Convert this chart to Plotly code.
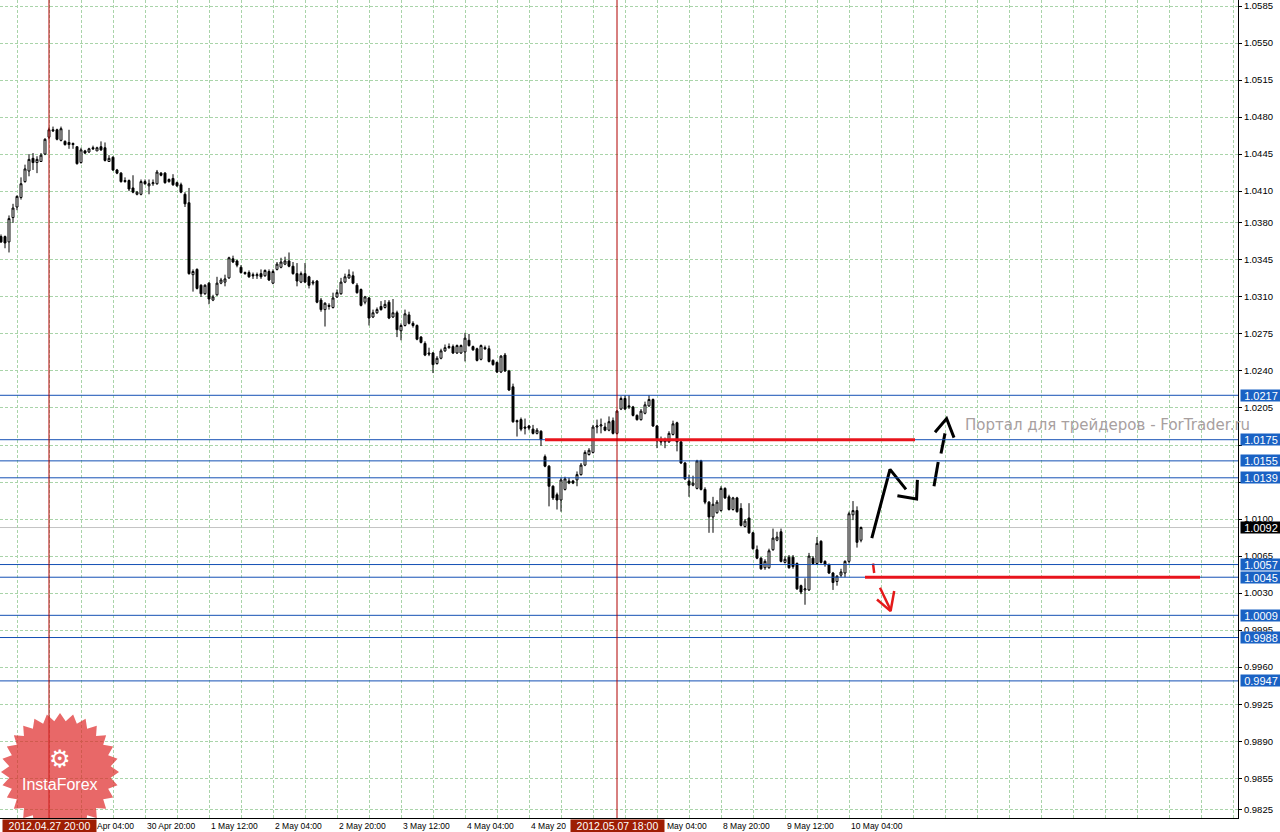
import math
import plotly.graph_objects as go

# ---------------- data (H1 candles, 27 Apr 08:00 .. 10 May 07:00, weekends skipped) ----------------
opens = [1.0367, 1.0367, 1.0362, 1.0385, 1.0395, 1.0404, 1.0419, 1.0429, 1.0441, 1.0437,
         1.0438, 1.0445, 1.0461, 1.0468, 1.0468, 1.0458, 1.0457, 1.0456, 1.0455, 1.0452,
         1.0437, 1.0448, 1.0447, 1.0451, 1.0448, 1.0452, 1.0451, 1.0438, 1.0442, 1.0430,
         1.0427, 1.0420, 1.0420, 1.0413, 1.0407, 1.0407, 1.0419, 1.0415, 1.0417, 1.0417,
         1.0427, 1.0427, 1.0419, 1.0422, 1.0418, 1.0416, 1.0407, 1.0399, 1.0331, 1.0336,
         1.0321, 1.0313, 1.0323, 1.0307, 1.0312, 1.0323, 1.0324, 1.0328, 1.0346, 1.0344,
         1.0338, 1.0333, 1.0333, 1.0331, 1.0330, 1.0332, 1.0330, 1.0334, 1.0323, 1.0336,
         1.0338, 1.0341, 1.0344, 1.0339, 1.0332, 1.0324, 1.0332, 1.0329, 1.0323, 1.0325,
         1.0307, 1.0298, 1.0302, 1.0300, 1.0310, 1.0313, 1.0324, 1.0328, 1.0330, 1.0321,
         1.0317, 1.0305, 1.0309, 1.0291, 1.0295, 1.0301, 1.0300, 1.0305, 1.0291, 1.0295,
         1.0278, 1.0283, 1.0293, 1.0285, 1.0283, 1.0272, 1.0266, 1.0257, 1.0257, 1.0247,
         1.0252, 1.0259, 1.0262, 1.0263, 1.0257, 1.0257, 1.0258, 1.0269, 1.0263, 1.0261,
         1.0251, 1.0262, 1.0261, 1.0250, 1.0248, 1.0239, 1.0255, 1.0240, 1.0225, 1.0193,
         1.0194, 1.0187, 1.0188, 1.0185, 1.0181, 1.0183, 1.0159, 1.0150, 1.0131, 1.0123,
         1.0118, 1.0128, 1.0136, 1.0136, 1.0137, 1.0142, 1.0151, 1.0161, 1.0163, 1.0187,
         1.0188, 1.0187, 1.0184, 1.0193, 1.0181, 1.0204, 1.0214, 1.0207, 1.0206, 1.0198,
         1.0194, 1.0200, 1.0207, 1.0213, 1.0188, 1.0174, 1.0173, 1.0173, 1.0180, 1.0191,
         1.0173, 1.0153, 1.0136, 1.0132, 1.0129, 1.0155, 1.0128, 1.0116, 1.0102, 1.0106,
         1.0108, 1.0129, 1.0121, 1.0109, 1.0120, 1.0110, 1.0093, 1.0101, 1.0087, 1.0071,
         1.0063, 1.0054, 1.0054, 1.0071, 1.0080, 1.0088, 1.0059, 1.0064, 1.0064, 1.0058,
         1.0037, 1.0033, 1.0033, 1.0063, 1.0058, 1.0079, 1.0060, 1.0057, 1.0049, 1.0041,
         1.0047, 1.0049, 1.0060, 1.0104, 1.0108, 1.0080]
highs = [1.0369, 1.0368, 1.0387, 1.0398, 1.0406, 1.0423, 1.0435, 1.0445, 1.0446, 1.0443,
         1.0446, 1.0460, 1.0470, 1.0471, 1.0469, 1.0471, 1.0458, 1.0468, 1.0456, 1.0452,
         1.0451, 1.0449, 1.0451, 1.0453, 1.0452, 1.0457, 1.0456, 1.0444, 1.0443, 1.0431,
         1.0428, 1.0423, 1.0421, 1.0425, 1.0410, 1.0421, 1.0421, 1.0421, 1.0421, 1.0430,
         1.0428, 1.0428, 1.0422, 1.0426, 1.0419, 1.0418, 1.0409, 1.0413, 1.0336, 1.0337,
         1.0322, 1.0322, 1.0324, 1.0312, 1.0329, 1.0328, 1.0331, 1.0348, 1.0349, 1.0345,
         1.0340, 1.0334, 1.0335, 1.0333, 1.0333, 1.0336, 1.0336, 1.0336, 1.0336, 1.0343,
         1.0347, 1.0348, 1.0352, 1.0343, 1.0342, 1.0334, 1.0342, 1.0330, 1.0326, 1.0326,
         1.0309, 1.0305, 1.0304, 1.0314, 1.0317, 1.0328, 1.0332, 1.0336, 1.0334, 1.0323,
         1.0318, 1.0311, 1.0310, 1.0298, 1.0300, 1.0306, 1.0307, 1.0307, 1.0308, 1.0297,
         1.0285, 1.0298, 1.0296, 1.0287, 1.0284, 1.0273, 1.0268, 1.0262, 1.0258, 1.0254,
         1.0261, 1.0265, 1.0266, 1.0265, 1.0265, 1.0265, 1.0276, 1.0275, 1.0264, 1.0262,
         1.0265, 1.0264, 1.0264, 1.0251, 1.0249, 1.0255, 1.0257, 1.0241, 1.0228, 1.0194,
         1.0196, 1.0195, 1.0189, 1.0189, 1.0186, 1.0184, 1.0161, 1.0151, 1.0132, 1.0125,
         1.0139, 1.0140, 1.0139, 1.0137, 1.0145, 1.0153, 1.0165, 1.0167, 1.0189, 1.0194,
         1.0195, 1.0191, 1.0197, 1.0196, 1.0203, 1.0216, 1.0217, 1.0217, 1.0207, 1.0199,
         1.0204, 1.0211, 1.0217, 1.0214, 1.0189, 1.0178, 1.0177, 1.0183, 1.0193, 1.0192,
         1.0175, 1.0154, 1.0142, 1.0141, 1.0156, 1.0156, 1.0130, 1.0117, 1.0121, 1.0118,
         1.0131, 1.0130, 1.0123, 1.0121, 1.0121, 1.0115, 1.0100, 1.0115, 1.0088, 1.0075,
         1.0064, 1.0062, 1.0072, 1.0091, 1.0088, 1.0091, 1.0065, 1.0066, 1.0066, 1.0059,
         1.0038, 1.0044, 1.0068, 1.0065, 1.0083, 1.0080, 1.0061, 1.0058, 1.0050, 1.0047,
         1.0053, 1.0061, 1.0107, 1.0117, 1.0112, 1.0093]
lows = [1.0361, 1.0356, 1.0352, 1.0380, 1.0392, 1.0402, 1.0418, 1.0424, 1.0430, 1.0427,
        1.0438, 1.0444, 1.0459, 1.0466, 1.0458, 1.0457, 1.0453, 1.0450, 1.0450, 1.0435,
        1.0436, 1.0445, 1.0446, 1.0449, 1.0448, 1.0448, 1.0438, 1.0438, 1.0429, 1.0426,
        1.0418, 1.0418, 1.0410, 1.0408, 1.0406, 1.0406, 1.0416, 1.0407, 1.0415, 1.0416,
        1.0424, 1.0417, 1.0418, 1.0415, 1.0414, 1.0408, 1.0395, 1.0331, 1.0315, 1.0317,
        1.0310, 1.0312, 1.0303, 1.0306, 1.0311, 1.0322, 1.0320, 1.0327, 1.0342, 1.0338,
        1.0332, 1.0331, 1.0328, 1.0327, 1.0327, 1.0327, 1.0329, 1.0325, 1.0322, 1.0335,
        1.0337, 1.0340, 1.0338, 1.0331, 1.0320, 1.0323, 1.0323, 1.0318, 1.0321, 1.0304,
        1.0296, 1.0282, 1.0298, 1.0299, 1.0309, 1.0312, 1.0323, 1.0327, 1.0322, 1.0313,
        1.0301, 1.0303, 1.0283, 1.0290, 1.0294, 1.0297, 1.0299, 1.0289, 1.0290, 1.0272,
        1.0269, 1.0282, 1.0284, 1.0281, 1.0269, 1.0266, 1.0254, 1.0254, 1.0238, 1.0246,
        1.0251, 1.0258, 1.0261, 1.0256, 1.0256, 1.0256, 1.0249, 1.0263, 1.0259, 1.0249,
        1.0250, 1.0260, 1.0248, 1.0245, 1.0238, 1.0238, 1.0239, 1.0221, 1.0191, 1.0178,
        1.0183, 1.0180, 1.0184, 1.0180, 1.0180, 1.0169, 1.0149, 1.0112, 1.0118, 1.0109,
        1.0107, 1.0127, 1.0133, 1.0133, 1.0131, 1.0141, 1.0150, 1.0160, 1.0162, 1.0181,
        1.0181, 1.0183, 1.0183, 1.0180, 1.0180, 1.0203, 1.0203, 1.0204, 1.0197, 1.0193,
        1.0193, 1.0199, 1.0206, 1.0187, 1.0167, 1.0170, 1.0167, 1.0172, 1.0179, 1.0164,
        1.0152, 1.0137, 1.0121, 1.0131, 1.0128, 1.0127, 1.0114, 1.0087, 1.0087, 1.0105,
        1.0107, 1.0119, 1.0108, 1.0108, 1.0106, 1.0093, 1.0092, 1.0086, 1.0071, 1.0062,
        1.0052, 1.0052, 1.0053, 1.0070, 1.0079, 1.0059, 1.0058, 1.0053, 1.0053, 1.0033,
        1.0029, 1.0019, 1.0032, 1.0057, 1.0057, 1.0058, 1.0055, 1.0048, 1.0033, 1.0037,
        1.0045, 1.0045, 1.0058, 1.0099, 1.0073, 1.0078]
closes = [1.0362, 1.0361, 1.0384, 1.0394, 1.0405, 1.0417, 1.0431, 1.0440, 1.0437, 1.0440,
          1.0444, 1.0459, 1.0468, 1.0467, 1.0459, 1.0469, 1.0454, 1.0454, 1.0454, 1.0436,
          1.0449, 1.0446, 1.0450, 1.0450, 1.0451, 1.0449, 1.0439, 1.0441, 1.0430, 1.0427,
          1.0419, 1.0419, 1.0412, 1.0409, 1.0409, 1.0419, 1.0417, 1.0417, 1.0418, 1.0428,
          1.0425, 1.0418, 1.0421, 1.0416, 1.0415, 1.0409, 1.0398, 1.0332, 1.0334, 1.0318,
          1.0313, 1.0321, 1.0308, 1.0310, 1.0323, 1.0326, 1.0327, 1.0347, 1.0343, 1.0340,
          1.0333, 1.0332, 1.0329, 1.0330, 1.0331, 1.0329, 1.0335, 1.0326, 1.0334, 1.0341,
          1.0343, 1.0344, 1.0339, 1.0332, 1.0325, 1.0332, 1.0324, 1.0321, 1.0324, 1.0305,
          1.0298, 1.0304, 1.0301, 1.0309, 1.0314, 1.0324, 1.0329, 1.0331, 1.0323, 1.0314,
          1.0302, 1.0310, 1.0290, 1.0295, 1.0298, 1.0298, 1.0303, 1.0290, 1.0295, 1.0279,
          1.0283, 1.0294, 1.0285, 1.0283, 1.0270, 1.0267, 1.0255, 1.0256, 1.0246, 1.0252,
          1.0259, 1.0262, 1.0263, 1.0257, 1.0264, 1.0264, 1.0271, 1.0264, 1.0260, 1.0250,
          1.0264, 1.0261, 1.0249, 1.0246, 1.0239, 1.0254, 1.0240, 1.0222, 1.0192, 1.0192,
          1.0185, 1.0186, 1.0186, 1.0181, 1.0184, 1.0175, 1.0150, 1.0131, 1.0120, 1.0118,
          1.0137, 1.0138, 1.0134, 1.0134, 1.0142, 1.0151, 1.0163, 1.0165, 1.0187, 1.0188,
          1.0189, 1.0184, 1.0192, 1.0181, 1.0202, 1.0214, 1.0204, 1.0206, 1.0198, 1.0194,
          1.0202, 1.0208, 1.0213, 1.0188, 1.0174, 1.0173, 1.0174, 1.0181, 1.0190, 1.0173,
          1.0153, 1.0138, 1.0132, 1.0134, 1.0155, 1.0128, 1.0116, 1.0102, 1.0114, 1.0116,
          1.0129, 1.0120, 1.0109, 1.0120, 1.0107, 1.0094, 1.0098, 1.0087, 1.0072, 1.0063,
          1.0053, 1.0060, 1.0070, 1.0082, 1.0083, 1.0060, 1.0062, 1.0054, 1.0055, 1.0034,
          1.0031, 1.0034, 1.0065, 1.0058, 1.0077, 1.0059, 1.0057, 1.0049, 1.0040, 1.0046,
          1.0050, 1.0060, 1.0105, 1.0108, 1.0078, 1.0092]
bar_index = list(range(len(opens)))

# time axis labels as visible on the chart (bar index, text, pixel shift past covering boxes)
time_tick_index = [20, 36, 52, 68, 84, 100, 116, 132, 164, 180, 196, 212]
time_tick_text = ["Apr 04:00", "30 Apr 20:00", "1 May 12:00", "2 May 04:00", "2 May 20:00",
                  "3 May 12:00", "4 May 04:00", "4 May 20", "May 04:00", "8 May 20:00",
                  "9 May 12:00", "10 May 04:00"]
time_tick_shift = [14, 0, 0, 0, 0, 0, 0, 0, 8, 0, 0, 0]

# price axis labels ("" where the level boxes fully cover them)
price_ticks = [1.0585, 1.0550, 1.0515, 1.0480, 1.0445, 1.0410, 1.0380, 1.0345, 1.0310, 1.0275,
               1.0240, 1.0205, 1.0170, 1.0135, 1.0100, 1.0065, 1.0030, 0.9995, 0.9960, 0.9925,
               0.9890, 0.9855, 0.9825]
price_hidden = [1.0170, 1.0135]

# horizontal levels
blue_levels = [1.0217, 1.0175, 1.0155, 1.0139, 1.0057, 1.0045, 1.0009, 0.9988, 0.9947]
bid_price = 1.0092

# red trend levels (start bar, end bar, price)
red_start = [136.0, 216.0]
red_end = [228.5, 299.75]
red_price = [1.0175, 1.0045]

# vertical separators
vline_index = [12, 154]
vline_text = ["2012.04.27 20:00", "2012.05.07 18:00"]

# hand drawn arrows (bar index, price); None separates strokes
black_arrow_x = [217.7, 222.25, 226.25, None, 224.1, 228.9, 229.1, None,
                 233.25, 234.3, None, 235.0, 236.0, None, 233.5, 236.4, 238.25]
black_arrow_y = [1.0082, 1.0147, 1.0128, None, 1.0122, 1.0119, 1.0137, None,
                 1.0131, 1.0154, None, 1.0162, 1.0181, None, 1.0182, 1.0195, 1.0177]
red_arrow_x = [218.0, 218.3, None, 219.75, 222.4, None, 219.0, 222.4, 223.3]
red_arrow_y = [1.0058, 1.0049, None, 1.0035, 1.0014, None, 1.0024, 1.0013, 1.0032]

# ---------------- geometry ----------------
W, H = 1280, 832
ML, MR, MT, MB = 0, 42, 0, 14
PW, PH = W - ML - MR, H - MT - MB
x_range = [-0.25, 309.25]
y_range = [0.98174, 1.059067]

GRID = "#A9D4A9"
BLUE = "#1450B4"
BLUE_BOX = "#1A62C4"
DARKRED = "#B00000"


def px_to_x(px):
    return x_range[0] + px / PW * (x_range[1] - x_range[0])


def py_to_y(py):
    return y_range[1] - py / PH * (y_range[1] - y_range[0])


fig = go.Figure()
fig.add_trace(go.Candlestick(
    x=bar_index, open=opens, high=highs, low=lows, close=closes,
    increasing=dict(line=dict(color="black", width=1), fillcolor="white"),
    decreasing=dict(line=dict(color="black", width=1), fillcolor="black"),
    whiskerwidth=0, hoverinfo="skip", showlegend=False,
))

fig.add_trace(go.Scatter(x=black_arrow_x, y=black_arrow_y, mode="lines",
                         line=dict(color="black", width=3), hoverinfo="skip",
                         showlegend=False, connectgaps=False))
fig.add_trace(go.Scatter(x=red_arrow_x, y=red_arrow_y, mode="lines",
                         line=dict(color="#E41A1A", width=2.5), hoverinfo="skip",
                         showlegend=False, connectgaps=False))

shapes = []
# bid line
shapes.append(dict(type="line", xref="paper", x0=0, x1=1, yref="y", y0=bid_price, y1=bid_price,
                   line=dict(color="#C4C4C4", width=1), layer="below"))
for lv in blue_levels:
    shapes.append(dict(type="line", xref="paper", x0=0, x1=1, yref="y", y0=lv, y1=lv,
                       line=dict(color=BLUE, width=1), layer="above"))
for xs, xe, pr in zip(red_start, red_end, red_price):
    shapes.append(dict(type="line", xref="x", x0=xs, x1=xe, yref="y", y0=pr, y1=pr,
                       line=dict(color="#E8141C", width=3), layer="above"))
for vi in vline_index:
    shapes.append(dict(type="line", xref="x", x0=vi, x1=vi, yref="paper", y0=0, y1=1,
                       line=dict(color=DARKRED, width=1), layer="above"))

# InstaForex badge (decoration): star burst in pixel geometry
cx, cy, r_out, r_in, n_pts = 60, 772, 59, 51, 28
pts = []
for k in range(2 * n_pts):
    r = r_out if k % 2 == 0 else r_in
    a = math.pi * k / n_pts - math.pi / 2
    pts.append((px_to_x(cx + r * math.cos(a)), py_to_y(cy + r * math.sin(a))))
star_path = "M " + " L ".join(f"{x:.4f},{y:.6f}" for x, y in pts) + " Z"
shapes.append(dict(type="path", xref="x", yref="y", path=star_path,
                   fillcolor="rgba(222,40,40,0.70)", line=dict(width=0), layer="above"))

annotations = []
for idx, txt, sh in zip(time_tick_index, time_tick_text, time_tick_shift):
    annotations.append(dict(x=idx, xref="x", y=0, yref="paper", yanchor="top", xanchor="left",
                            yshift=-1, xshift=sh, text=txt, showarrow=False,
                            font=dict(family="Liberation Sans", size=8.5, color="black")))
for idx, txt in zip(vline_index, vline_text):
    annotations.append(dict(x=idx, xref="x", y=0, yref="paper", yanchor="top", xanchor="center",
                            yshift=-1, text=txt, showarrow=False, bgcolor="#9E1E04",
                            width=93, height=12, borderpad=0,
                            font=dict(family="Liberation Sans", size=10.5, color="white")))
for lv in blue_levels:
    annotations.append(dict(x=1, xref="paper", xanchor="left", xshift=2, y=lv, yref="y",
                            yanchor="middle", text=f"{lv:.4f}", showarrow=False,
                            bgcolor=BLUE_BOX, width=40, height=11, borderpad=0,
                            font=dict(family="Liberation Sans", size=11, color="white")))
annotations.append(dict(x=1, xref="paper", xanchor="left", xshift=2, y=bid_price, yref="y",
                        yanchor="middle", text=f"{bid_price:.4f}", showarrow=False,
                        bgcolor="black", width=40, height=11, borderpad=0,
                        font=dict(family="Liberation Sans", size=11, color="white")))
# watermark
annotations.append(dict(x=963 / PW, xref="paper", xanchor="left", y=1 - 425 / PH, yref="paper",
                        yanchor="middle", text="Портал для трейдеров - ForTrader.ru",
                        showarrow=False,
                        font=dict(family="DejaVu Sans", size=15, color="#A8A09F")))
# badge glyph + name
annotations.append(dict(x=cx / PW, xref="paper", xanchor="center", y=1 - 759 / PH, yref="paper",
                        yanchor="middle", text="⚙", showarrow=False,
                        font=dict(family="DejaVu Sans", size=24, color="white")))
annotations.append(dict(x=cx / PW, xref="paper", xanchor="center", y=1 - 784 / PH, yref="paper",
                        yanchor="middle", text="InstaForex", showarrow=False,
                        font=dict(family="Liberation Sans", size=16, color="white")))

fig.update_layout(
    width=W, height=H,
    margin=dict(l=ML, r=MR, t=MT, b=MB, pad=0),
    paper_bgcolor="white", plot_bgcolor="white",
    showlegend=False, boxgap=0.3, boxgroupgap=0.3,
    shapes=shapes, annotations=annotations,
    xaxis=dict(range=x_range, tickmode="linear", tick0=4, dtick=8,
               showgrid=True, gridcolor=GRID, griddash="3px,2px", gridwidth=1,
               showticklabels=False, ticks="", showline=True, linecolor="black",
               linewidth=1, zeroline=False, fixedrange=True,
               rangeslider=dict(visible=False)),
    yaxis=dict(range=y_range, side="right", tickmode="array", tickvals=price_ticks,
               ticktext=["" if v in price_hidden else f"{v:.4f}" for v in price_ticks],
               showgrid=True, gridcolor=GRID, griddash="3px,2px", gridwidth=1,
               ticks="outside", ticklen=3, tickcolor="black", showline=True,
               linecolor="black", linewidth=1, zeroline=False, fixedrange=True,
               tickfont=dict(family="Liberation Sans", size=9.5, color="black")),
)

fig.write_html("out.html", config={"displayModeBar": False, "staticPlot": True},
               post_script="document.body.style.margin='0';document.body.style.overflow='hidden';")
